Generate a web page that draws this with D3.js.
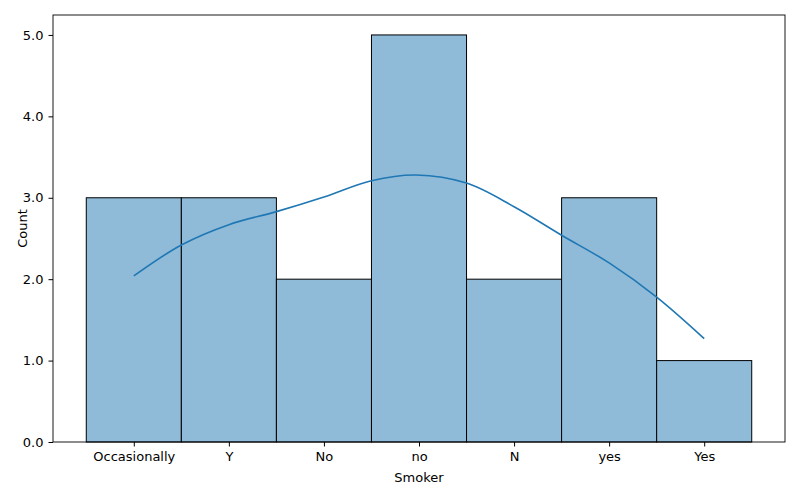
<!DOCTYPE html>
<html><head><meta charset="utf-8">
<script src="https://cdn.jsdelivr.net/npm/d3@7"></script>
<style>body{margin:0;background:#fff}text{font-family:"DejaVu Sans",sans-serif}</style>
</head><body><svg id="c" width="800" height="500"></svg>
<script>
const categories = ['Occasionally', 'Y', 'No', 'no', 'N', 'yes', 'Yes'];
const counts = [3, 3, 2, 5, 2, 3, 1];
const kdeX = [0, 0.5, 1, 1.5, 2, 2.5, 2.97, 3.5, 4, 4.5, 5, 5.5, 6];
const kdeY = [2.04, 2.42, 2.67, 2.83, 3.01, 3.21, 3.28, 3.18, 2.89, 2.54, 2.2, 1.78, 1.27];
const yTicks = [0, 1, 2, 3, 4, 5];

const m = {l: 53, r: 15, t: 15, b: 58};
const W = 800, H = 500;
const svg = d3.select('#c');
const x = d3.scaleLinear().domain([-0.85, 6.85]).range([m.l, W - m.r]);
const y = d3.scaleLinear().domain([0, 5.245]).range([H - m.b, m.t]);

svg.append('g').selectAll('rect').data(counts).join('rect')
  .attr('x', (d, i) => x(i - 0.5)).attr('width', x(1) - x(0))
  .attr('y', d => y(d)).attr('height', d => y(0) - y(d))
  .attr('fill', '#8fbbd9').attr('stroke', '#000').attr('stroke-width', 1);

svg.append('path').datum(kdeX.map((v, i) => [v, kdeY[i]]))
  .attr('d', d3.line().x(d => x(d[0])).y(d => y(d[1])).curve(d3.curveCatmullRom))
  .attr('fill', 'none').attr('stroke', '#1f77b4').attr('stroke-width', 1.6);

svg.append('rect').attr('x', m.l).attr('y', m.t)
  .attr('width', W - m.l - m.r).attr('height', H - m.t - m.b)
  .attr('fill', 'none').attr('stroke', '#000').attr('stroke-width', 0.9);

const xa = svg.append('g').attr('transform', `translate(0,${H - m.b})`)
  .call(d3.axisBottom(x).tickValues(d3.range(categories.length)).tickFormat(i => categories[i]).tickSize(4.5).tickPadding(5));
const ya = svg.append('g').attr('transform', `translate(${m.l},0)`)
  .call(d3.axisLeft(y).tickValues(yTicks).tickSize(4.5).tickPadding(5));
[xa, ya].forEach(a => {
  a.select('.domain').remove();
  a.selectAll('text').attr('font-size', 13).attr('fill', '#000').style('font-family', '"DejaVu Sans"');
});

svg.append('text').attr('x', x(3)).attr('y', 482).attr('text-anchor', 'middle')
  .attr('font-size', 13).text('Smoker');
svg.append('text').attr('transform', `translate(27,${(m.t + H - m.b) / 2}) rotate(-90)`)
  .attr('text-anchor', 'middle').attr('font-size', 13).text('Count');
</script></body></html>
